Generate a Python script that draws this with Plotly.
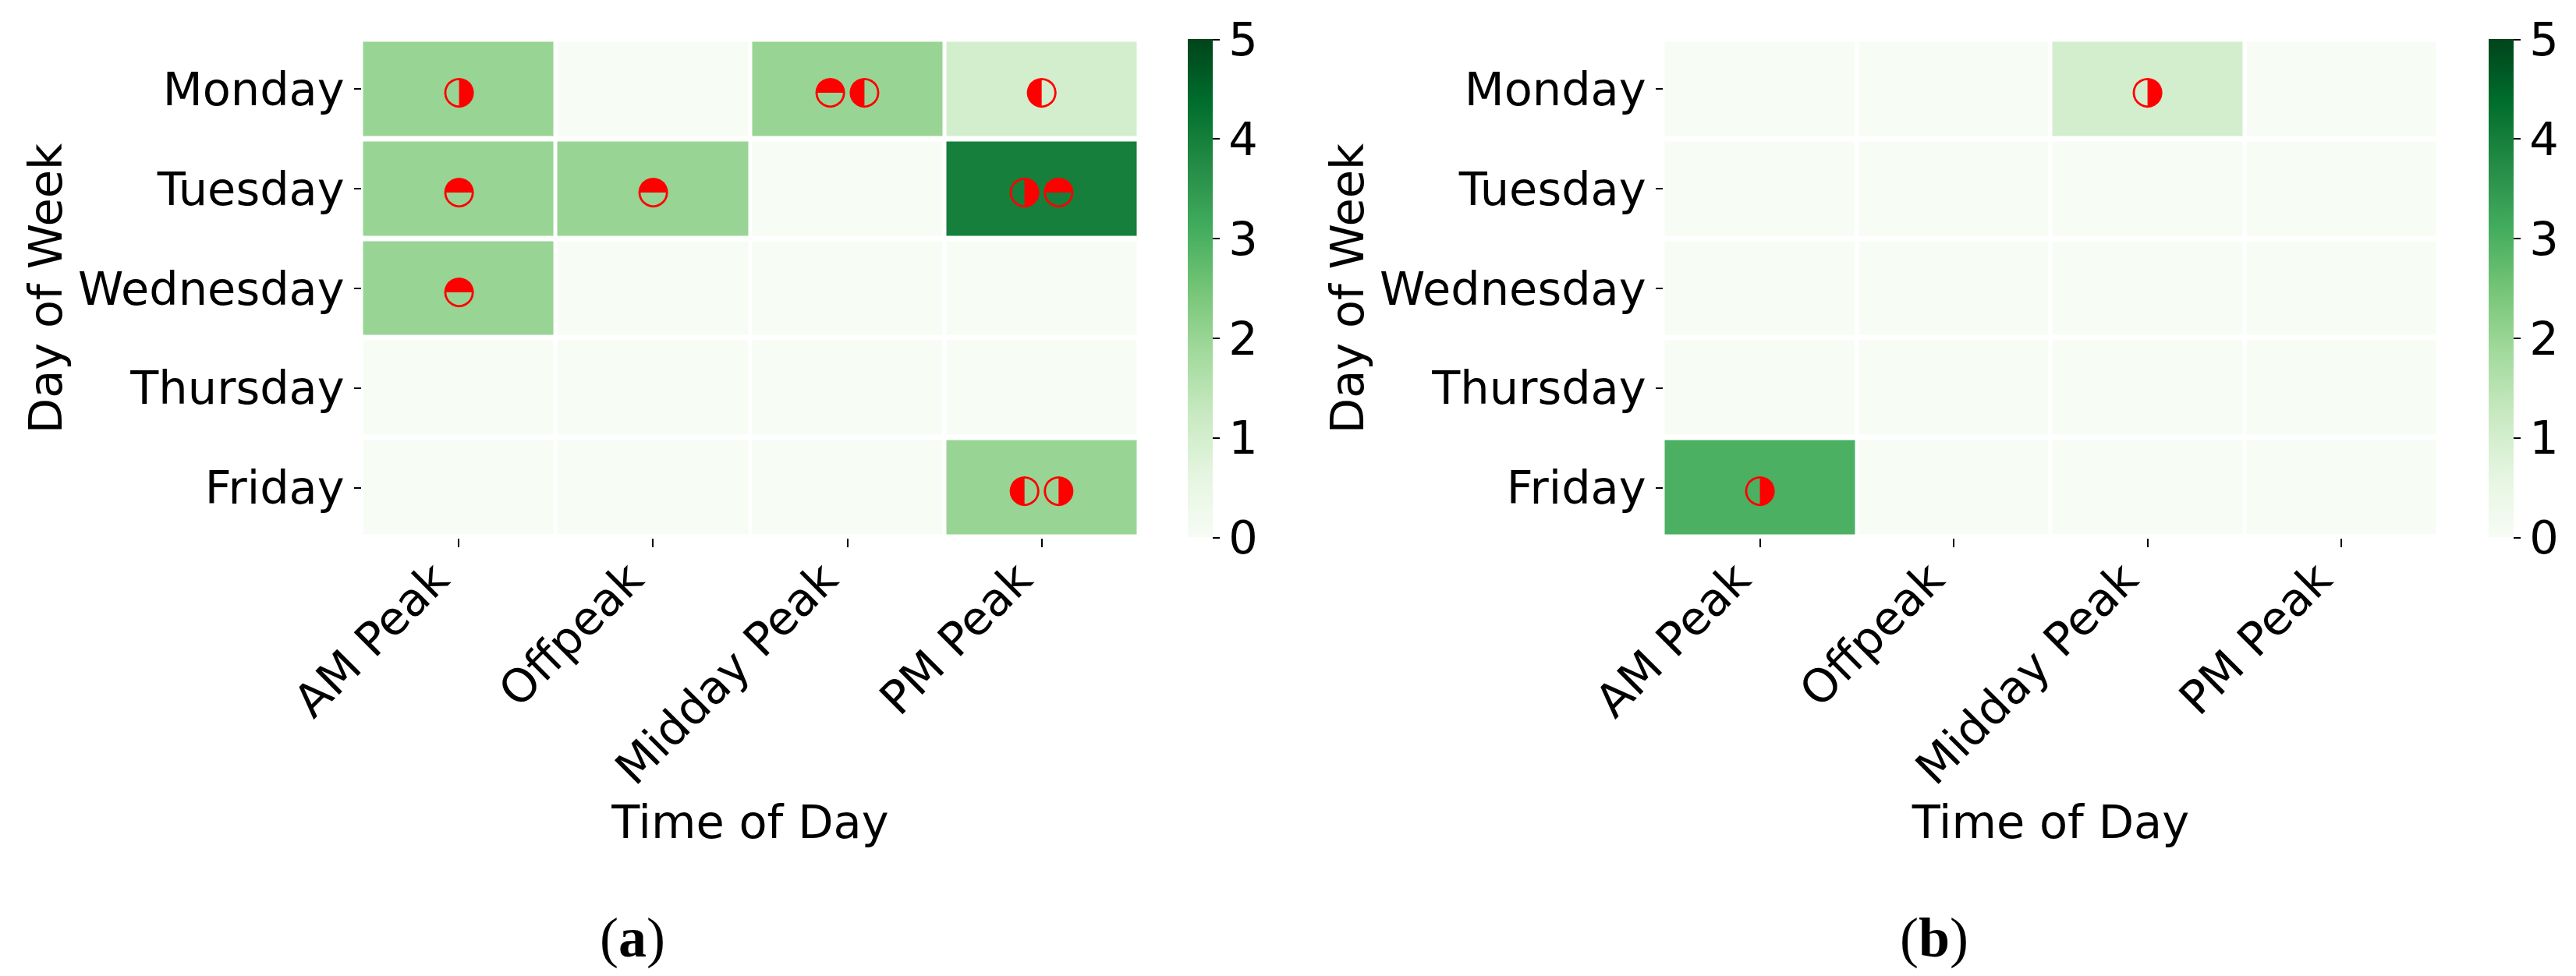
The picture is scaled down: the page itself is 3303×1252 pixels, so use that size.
import plotly.graph_objects as go

WIDTH = 3303
HEIGHT = 1252
PAGE_MARGIN = 8  # browser default body margin

times = ["AM Peak", "Offpeak", "Midday Peak", "PM Peak"]
days = ["Monday", "Tuesday", "Wednesday", "Thursday", "Friday"]
colorbar_ticks = [0, 1, 2, 3, 4, 5]

counts_a = [
    [2, 0, 2, 1],
    [2, 2, 0, 4],
    [2, 0, 0, 0],
    [0, 0, 0, 0],
    [0, 0, 0, 2],
]
counts_b = [
    [0, 0, 1, 0],
    [0, 0, 0, 0],
    [0, 0, 0, 0],
    [0, 0, 0, 0],
    [3, 0, 0, 0],
]
glyphs_a = [
    ["◑", "", "◓◐", "◐"],
    ["◓", "◓", "", "◑◓"],
    ["◓", "", "", ""],
    ["", "", "", ""],
    ["", "", "", "◐◑"],
]
glyphs_b = [
    ["", "", "◑", ""],
    ["", "", "", ""],
    ["", "", "", ""],
    ["", "", "", ""],
    ["◑", "", "", ""],
]

FONT = "DejaVu Sans"
FONT_SIZE = 59


def px_x(v):
    return (v - PAGE_MARGIN) / WIDTH


def px_y(v):
    return 1 - (v - PAGE_MARGIN) / HEIGHT


def heatmap(z, glyphs, xaxis, yaxis, bar_left):
    return go.Heatmap(
        z=z,
        x=times,
        y=days,
        text=glyphs,
        texttemplate="%{text}",
        textfont=dict(family=FONT, size=50, color="red"),
        xaxis=xaxis,
        yaxis=yaxis,
        zmin=0,
        zmax=5,
        colorscale="Greens",
        xgap=5,
        ygap=7,
        hoverongaps=False,
        colorbar=dict(
            x=px_x(bar_left),
            xanchor="left",
            y=px_y(689.5),
            yanchor="bottom",
            len=639 / HEIGHT,
            thickness=32,
            outlinewidth=0,
            ticks="outside",
            ticklen=9,
            tickwidth=2,
            tickcolor="black",
            tickvals=colorbar_ticks,
            tickfont=dict(family=FONT, size=FONT_SIZE, color="black"),
            xpad=0,
            ypad=0,
        ),
    )


fig = go.Figure()
fig.add_trace(heatmap(counts_a, glyphs_a, "x", "y", 1523))
fig.add_trace(heatmap(counts_b, glyphs_b, "x2", "y2", 3191))

y_domain = [px_y(689.5), px_y(50.5)]
x_common = dict(
    type="category",
    automargin=False,
    tickangle=-45,
    ticks="outside",
    ticklen=11,
    tickwidth=2,
    tickcolor="black",
    ticklabelstandoff=-17,
    ticklabelshift=-30,
    showgrid=False,
    zeroline=False,
    showline=False,
    tickfont=dict(family=FONT, size=FONT_SIZE, color="black"),
)
y_common = dict(
    type="category",
    automargin=False,
    autorange="reversed",
    ticks="outside",
    ticklen=9,
    tickwidth=2,
    tickcolor="black",
    showgrid=False,
    zeroline=False,
    showline=False,
    domain=y_domain,
    tickfont=dict(family=FONT, size=FONT_SIZE, color="black"),
)
x_title = dict(text="Time of Day", font=dict(family=FONT, size=FONT_SIZE, color="black"), standoff=12)
y_title = dict(text="Day of Week", font=dict(family=FONT, size=FONT_SIZE, color="black"), standoff=1)

fig.update_layout(
    width=WIDTH,
    height=HEIGHT,
    autosize=False,
    margin=dict(l=0, r=0, t=0, b=0, autoexpand=False),
    plot_bgcolor="white",
    paper_bgcolor="white",
    font=dict(family=FONT, size=FONT_SIZE, color="black"),
    xaxis=dict(domain=[px_x(463.5), px_x(1460.5)], anchor="y", title=x_title, **x_common),
    yaxis=dict(anchor="x", title=y_title, **y_common),
    xaxis2=dict(domain=[px_x(2132.5), px_x(3126.5)], anchor="y2", title=x_title, **x_common),
    yaxis2=dict(anchor="x2", title=y_title, **y_common),
    annotations=[
        dict(
            text=text,
            x=px_x(cx),
            y=px_y(1203),
            xref="paper",
            yref="paper",
            xanchor="center",
            yanchor="middle",
            showarrow=False,
            font=dict(family="Liberation Serif", size=72, color="black"),
        )
        for text, cx in [("(<b>a</b>)", 811), ("(<b>b</b>)", 2480)]
    ],
)

fig.write_html("out.html")
